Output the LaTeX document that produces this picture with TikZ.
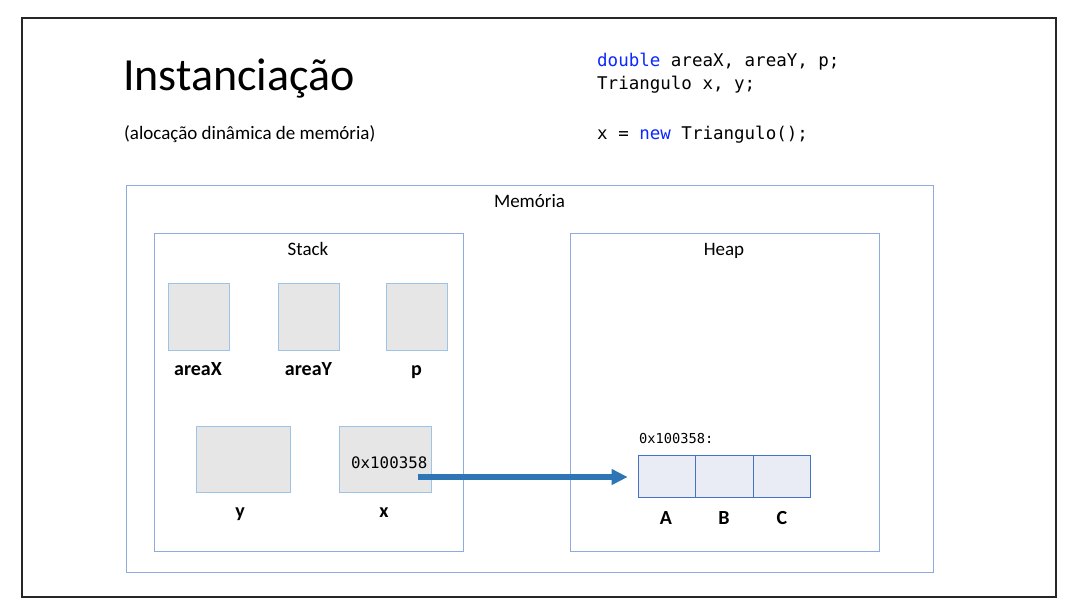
\documentclass[tikz,border=0pt]{standalone}
\usepackage{fontspec}
\setmainfont{Carlito}
\newfontfamily\codefont{DejaVu Sans Mono}
\usetikzlibrary{arrows.meta}
\definecolor{boxblue}{RGB}{143,170,220}
\definecolor{cellblue}{RGB}{68,114,196}
\definecolor{cellfill}{RGB}{233,235,245}
\definecolor{varfill}{RGB}{231,230,230}
\definecolor{varline}{RGB}{157,195,230}
\definecolor{arrowblue}{RGB}{46,117,182}
\definecolor{kw}{RGB}{10,40,255}
\begin{document}
\begin{tikzpicture}[x=1pt,y=-1pt,
  region/.style={draw=boxblue,line width=1pt,inner sep=0pt},
  varbox/.style={draw=varline,fill=varfill,line width=0.9pt,inner sep=0pt},
  cellbox/.style={draw=cellblue,fill=cellfill,line width=1pt,inner sep=0pt,minimum width=57.7pt,minimum height=42pt},
  txt/.style={inner sep=0pt,font=\fontsize{19}{23}\selectfont},
  lbl/.style={inner sep=0pt,anchor=base,font=\fontsize{20}{24}\selectfont\bfseries},
  code/.style={inner sep=0pt,anchor=base west,font=\codefont\fontsize{17.5}{21}\selectfont},
  ptr/.style={draw=arrowblue,line width=5.5pt,-{Triangle[length=16pt,width=15pt]}}
]
\useasboundingbox (0,0) rectangle (1078,614);
\fill[white] (0,0) rectangle (1078,614);
\draw[line width=2pt,black!85] (22,18) rectangle (1056,597);

% titles
\node[inner sep=0pt,anchor=base west,font=\fontsize{46}{52}\selectfont] (title) at (123,90) {Instanciação};
\node[txt,anchor=base west] (sub) at (124,139) {(alocação dinâmica de memória)};

% code
\node[code] (c1) at (597,66) {\textcolor{kw}{double} areaX, areaY, p;};
\node[code] (c2) at (597,89) {Triangulo x, y;};
\node[code] (c3) at (597,139) {x = \textcolor{kw}{new} Triangulo();};

% regions
\node[region,minimum width=807pt,minimum height=387pt] (mem) at (529.5,378.5) {};
\node[txt,anchor=base] (memlbl) at (529.5,207.5) {Memória};
\node[region,minimum width=309pt,minimum height=318pt] (stack) at (308.5,392) {};
\node[txt,anchor=base] (stacklbl) at (308,255) {Stack};
\node[region,minimum width=309pt,minimum height=318pt] (heap) at (724.5,392) {};
\node[txt,anchor=base] (heaplbl) at (724,255) {Heap};

% stack variables
\node[varbox,minimum width=61pt,minimum height=67pt] (vax) at (198.5,316.5) {};
\node[varbox,minimum width=61pt,minimum height=67pt] (vay) at (308.5,316.5) {};
\node[varbox,minimum width=61pt,minimum height=67pt] (vp) at (416.5,316.5) {};
\node[lbl] (lax) at (198,375) {areaX};
\node[lbl] (lay) at (308.5,375) {areaY};
\node[lbl] (lp) at (416.5,375) {p};

\node[varbox,minimum width=94pt,minimum height=66pt] (vy) at (243,459) {};
\node[varbox,minimum width=92pt,minimum height=66pt] (vx) at (385,459) {};
\node[lbl] (ly) at (240,517.5) {y};
\node[lbl] (lx) at (384,517.5) {x};
\node[inner sep=0pt,anchor=base west,font=\codefont\fontsize{15.8}{19}\selectfont] (xval) at (351,468) {0x100358};

% heap object
\node[cellbox] (ca) at (667,476) {};
\node[cellbox] (cb) at (724.5,476) {};
\node[cellbox] (cc) at (782,476) {};
\node[inner sep=0pt,anchor=base west,font=\codefont\fontsize{13.7}{16}\selectfont] (addr) at (639,443) {0x100358:};
\node[lbl] (la) at (666,524) {A};
\node[lbl] (lb) at (724,524) {B};
\node[lbl] (lc) at (782,524) {C};

% pointer
\coordinate (xptr) at (418,477);
\draw[ptr,shorten >=10pt] (xptr) -- (xptr -| ca.west);
\end{tikzpicture}
\end{document}
